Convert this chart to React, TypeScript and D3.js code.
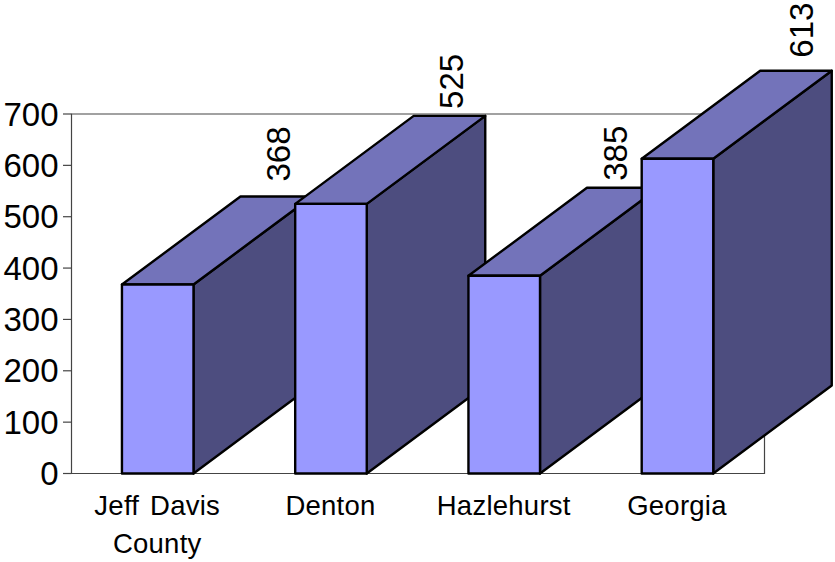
import React from "react";
import * as d3 from "d3";

const categories: string[][] = [["Jeff Davis", "County"], ["Denton"], ["Hazlehurst"], ["Georgia"]];
const values = [368, 525, 385, 613];
const yTicks = [0, 100, 200, 300, 400, 500, 600, 700];

const FONT = "'Liberation Sans', Arial, sans-serif";
const FRONT = "#9999FF";
const TOP = "#7373BA";
const SIDE = "#4D4D7F";
const DEPTH_X = 118.5;
const DEPTH_Y = 88;
// Hand placement of the rotated value labels, per bar.
const labelNudgeX = [0, 0, -9, 4];
const labelNudgeY = [0, 8, 8, 2];

export default function App() {
  const y = d3.scaleLinear().domain([0, 700]).range([473.5, 114]);
  const x = d3
    .scaleBand<number>()
    .domain(d3.range(categories.length))
    .range([71.1, 764.1])
    .paddingInner(0.587)
    .paddingOuter(0.2935);
  const left = 71.5;
  const right = 764.5;
  const base = y(0);
  const line = d3.line();

  return (
    <svg
      width={835}
      height={562}
      style={{ position: "absolute", left: 0, top: 0, background: "#fff" }}
      fontFamily={FONT}
    >
      {/* plot frame */}
      <path
        d={`M${left},${y(700)}H${right}V${base}H${left}Z`}
        fill="none"
        stroke="#444"
        strokeWidth={1.2}
      />
      {yTicks.map((t) => (
        <g key={t}>
          <line x1={63} x2={left} y1={y(t)} y2={y(t)} stroke="#444" strokeWidth={1.2} />
          <text x={58.5} y={y(t) + 11.5} textAnchor="end" fontSize={33} fill="#000">
            {t}
          </text>
        </g>
      ))}

      {/* bars, painted left to right so each front hides the previous side */}
      {values.map((v, i) => {
        const x0 = x(i)!;
        const x1 = x0 + x.bandwidth();
        const t = y(v);
        const top = line([
          [x0, t],
          [x0 + DEPTH_X, t - DEPTH_Y],
          [x1 + DEPTH_X, t - DEPTH_Y],
          [x1, t],
        ])! + "Z";
        const side = line([
          [x1, t],
          [x1 + DEPTH_X, t - DEPTH_Y],
          [x1 + DEPTH_X, base - DEPTH_Y],
          [x1, base],
        ])! + "Z";
        const stroke = { stroke: "#000", strokeWidth: 2.4, strokeLinejoin: "round" as const };
        return (
          <g key={i}>
            <path d={side} fill={SIDE} {...stroke} />
            <path d={top} fill={TOP} {...stroke} />
            <rect x={x0} y={t} width={x.bandwidth()} height={base - t} fill={FRONT} {...stroke} />
          </g>
        );
      })}

      {/* value labels, rotated above the back edge */}
      {values.map((v, i) => {
        const cx = x(i)! + x.bandwidth() / 2 + DEPTH_X + 2 + labelNudgeX[i];
        const by = y(v) - DEPTH_Y - 15 + labelNudgeY[i];
        return (
          <text
            key={v}
            transform={`translate(${cx + 11.5},${by}) rotate(-90)`}
            fontSize={33}
            fill="#000"
          >
            {v}
          </text>
        );
      })}

      {/* category labels */}
      {categories.map((lines, i) => (
        <text key={i} textAnchor="middle" fontSize={27.5} wordSpacing={3} letterSpacing={0.25} fill="#000">
          {lines.map((l, j) => (
            <tspan key={l} x={x(i)! + x.bandwidth() / 2 - 0.5} y={515 + j * 38}>
              {l}
            </tspan>
          ))}
        </text>
      ))}
    </svg>
  );
}
